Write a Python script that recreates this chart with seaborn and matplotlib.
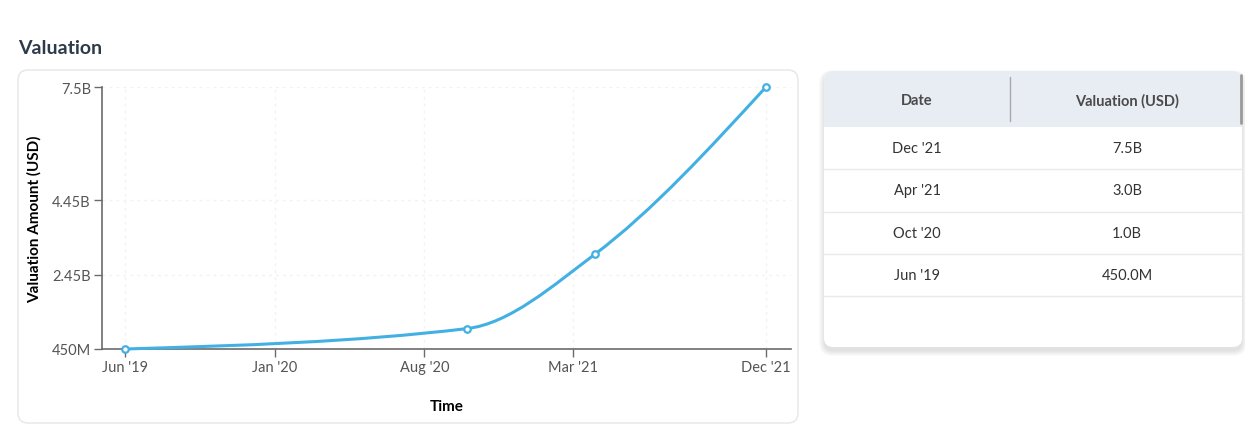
import numpy as np
import pandas as pd
import matplotlib
matplotlib.use("Agg")
import matplotlib.pyplot as plt
import matplotlib.dates as mdates
from matplotlib.path import Path
from matplotlib.patches import PathPatch, FancyBboxPatch, Rectangle
import seaborn as sns

# data
dates = ["2019-06-01", "2020-10-01", "2021-04-01", "2021-12-01"]
values = [0.45e9, 1.0e9, 3.0e9, 7.5e9]
tick_dates = ["2019-06-01", "2020-01-01", "2020-08-01", "2021-03-01", "2021-12-01"]
tick_labels = ["Jun '19", "Jan '20", "Aug '20", "Mar '21", "Dec '21"]
y_ticks = [0.45e9, 2.45e9, 4.45e9, 7.5e9]
y_labels = ["450M", "2.45B", "4.45B", "7.5B"]
table_dates = ["Dec '21", "Apr '21", "Oct '20", "Jun '19"]
table_values = ["7.5B", "3.0B", "1.0B", "450.0M"]

BLUE = "#42b0e3"
W, H = 1245, 427

sns.set_theme(style="white")
plt.rcParams["font.family"] = ["Lato", "DejaVu Sans"]

df = pd.DataFrame({"date": pd.to_datetime(dates), "value": values})
df["x"] = mdates.date2num(df["date"])


def monotone_path(x, y):
    # bezier segments like d3 curveMonotoneX
    x = np.asarray(x, float)
    y = np.asarray(y, float)
    h = np.diff(x)
    s = np.diff(y) / h
    n = len(x)
    t = np.zeros(n)
    for i in range(1, n - 1):
        p = (s[i - 1] * h[i] + s[i] * h[i - 1]) / (h[i - 1] + h[i])
        t[i] = (np.sign(s[i - 1]) + np.sign(s[i])) * min(abs(s[i - 1]), abs(s[i]), 0.5 * abs(p))
    t[0] = (3 * s[0] - t[1]) / 2
    t[-1] = (3 * s[-1] - t[-2]) / 2
    verts = [(x[0], y[0])]
    codes = [Path.MOVETO]
    for i in range(n - 1):
        dx = h[i] / 3
        verts += [(x[i] + dx, y[i] + dx * t[i]), (x[i + 1] - dx, y[i + 1] - dx * t[i + 1]), (x[i + 1], y[i + 1])]
        codes += [Path.CURVE4] * 3
    return Path(verts, codes)


fig = plt.figure(figsize=(W / 100, H / 100), dpi=100)

# background layer in pixel coords
bg = fig.add_axes([0, 0, 1, 1], zorder=0)
bg.set_xlim(0, W)
bg.set_ylim(H, 0)
bg.axis("off")

bg.text(18, 48, "Valuation", fontsize=14, fontweight="bold", color="#2d3a4a", va="center", ha="left")

# chart card
bg.add_patch(FancyBboxPatch((18, 71), 780, 353, boxstyle="round,pad=0,rounding_size=10",
                            fc="white", ec="#e6e6e6", lw=1))

# table card with shadow
for k in range(6):
    bg.add_patch(FancyBboxPatch((824 - k, 73 - k + 3), 418 + 2 * k, 276 + 2 * k,
                                boxstyle="round,pad=0,rounding_size=%d" % (9 + k),
                                fc="black", ec="none", alpha=0.018))
bg.add_patch(FancyBboxPatch((824, 72), 418, 276, boxstyle="round,pad=0,rounding_size=9",
                            fc="white", ec="none"))
bg.add_patch(FancyBboxPatch((824, 72), 418, 56, boxstyle="round,pad=0,rounding_size=9",
                            fc="#e8ecf3", ec="none"))
bg.add_patch(Rectangle((824, 100), 418, 28, fc="#e8ecf3", ec="none"))
bg.plot([1010, 1010], [78, 122], color="#a9a9a9", lw=1)
bg.plot([1240.5, 1240.5], [76, 124], color="#9a9a9a", lw=2)
bg.text(917, 101, "Date", fontsize=10.5, fontweight="bold", color="#4a4a4a", ha="center", va="center")
bg.text(1127, 101, "Valuation (USD)", fontsize=10.5, fontweight="bold", color="#4a4a4a", ha="center", va="center")

row_h = 42.3
for i, (d, v) in enumerate(zip(table_dates, table_values)):
    yc = 128 + row_h * (i + 0.5)
    bg.text(917, yc, d, fontsize=10.5, color="#333333", ha="center", va="center")
    bg.text(1127, yc, v, fontsize=10.5, color="#333333", ha="center", va="center")
    yl = 128 + row_h * (i + 1)
    bg.plot([824, 1242], [yl, yl], color="#e9e9e9", lw=1)

# chart
ax = fig.add_axes([102 / W, 1 - 350 / H, 689 / W, 262 / H], zorder=1)
ax.patch.set_alpha(0)

px_per_day = 641 / (df["x"].iloc[-1] - df["x"].iloc[0])
ax.set_xlim(df["x"].iloc[0] - 23 / px_per_day, df["x"].iloc[-1] + 25 / px_per_day)
ax.set_ylim(0.45e9, 7.5e9)

ax.add_patch(PathPatch(monotone_path(df["x"], df["value"]), fc="none", ec=BLUE, lw=2.2,
                       capstyle="round", zorder=3, clip_on=False))
sns.scatterplot(data=df, x="x", y="value", ax=ax, s=22, color="white", edgecolor=BLUE,
                linewidth=1.6, zorder=4, clip_on=False)

ax.set_xticks(mdates.date2num(pd.to_datetime(tick_dates)))
ax.set_xticklabels(tick_labels)
ax.set_yticks(y_ticks)
ax.set_yticklabels(y_labels)
ax.grid(True, color="#f2f2f2", linestyle=(0, (2, 3)), lw=1)
ax.set_axisbelow(True)

sns.despine(ax=ax)
for sp in ["left", "bottom"]:
    ax.spines[sp].set_color("#6b6b6b")
    ax.spines[sp].set_linewidth(1.2)
ax.tick_params(axis="both", length=6, width=1, color="#6b6b6b", labelcolor="#555555",
               labelsize=10.5, pad=2, direction="out", bottom=True, left=True)

ax.set_xlabel("Time", fontsize=11, fontweight="bold", color="black")
ax.set_ylabel("Valuation Amount (USD)", fontsize=11, fontweight="bold", color="black")
ax.xaxis.set_label_coords(0.5, -(400 - 350) / 262)
ax.yaxis.set_label_coords((42 - 102) / 689, 0.5)

fig.savefig("out.png", dpi=100)
